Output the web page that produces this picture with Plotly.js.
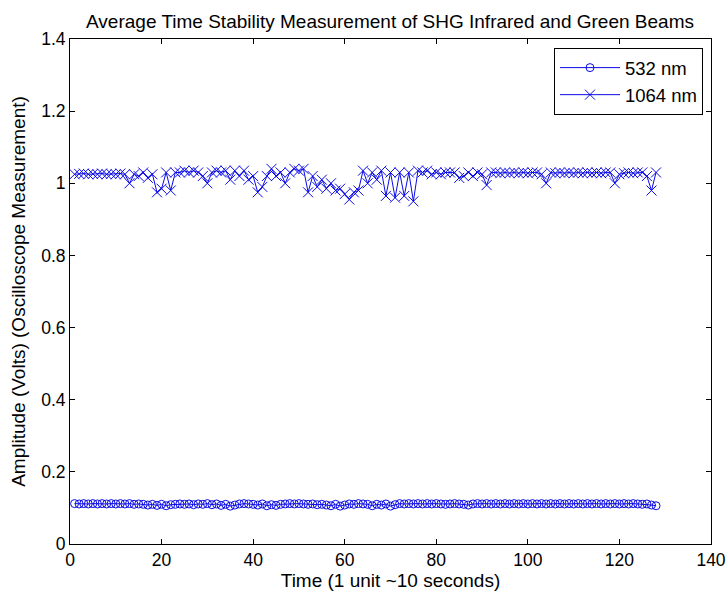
<!DOCTYPE html>
<html>
<head>
<meta charset="utf-8">
<script src="https://cdn.plot.ly/plotly-3.0.1.min.js"></script>
<style>html,body{margin:0;padding:0;background:#fff;}#chart{width:728px;height:597px;}</style>
</head>
<body>
<div id="chart"></div>
<script>
const seriesNames = ["532 nm", "1064 nm"];
const green532 = [
0.112,0.111,0.112,0.111,0.112,0.111,0.112,0.111,0.112,0.111,
0.112,0.111,0.112,0.110,0.111,0.110,0.108,0.110,0.107,0.110,
0.106,0.109,0.110,0.111,0.110,0.111,0.109,0.111,0.110,0.112,
0.109,0.111,0.107,0.110,0.105,0.108,0.111,0.112,0.111,0.110,
0.108,0.111,0.106,0.109,0.107,0.110,0.111,0.112,0.111,0.112,
0.111,0.110,0.111,0.109,0.110,0.108,0.106,0.110,0.105,0.108,
0.111,0.110,0.112,0.111,0.110,0.106,0.110,0.108,0.111,0.105,
0.109,0.112,0.111,0.112,0.111,0.112,0.111,0.112,0.111,0.112,
0.111,0.110,0.111,0.112,0.111,0.110,0.108,0.111,0.112,0.111,
0.112,0.111,0.112,0.111,0.112,0.111,0.112,0.111,0.112,0.111,
0.112,0.111,0.112,0.111,0.112,0.111,0.112,0.111,0.112,0.111,
0.112,0.111,0.112,0.111,0.112,0.111,0.112,0.111,0.112,0.111,
0.112,0.111,0.112,0.111,0.110,0.111,0.108,0.106
];
const infrared1064 = [
1.025,1.026,1.027,1.025,1.026,1.025,1.027,1.025,1.026,1.025,
1.027,1.025,1.000,1.025,1.020,1.030,1.015,1.025,0.975,0.985,
1.030,0.980,1.030,1.030,1.035,1.030,1.035,1.030,1.020,1.000,
1.030,1.035,1.030,1.035,1.010,1.035,1.020,1.035,1.010,1.020,
0.975,0.990,1.020,1.040,1.020,1.030,1.000,1.030,1.040,1.035,
1.040,0.975,1.020,0.990,1.010,0.985,1.000,0.980,0.985,0.970,
0.955,0.975,0.980,1.035,1.000,1.030,1.010,1.035,0.965,1.030,
0.960,1.030,0.965,1.030,0.950,1.035,1.030,1.035,1.025,1.030,
1.025,1.030,1.030,1.030,1.015,1.020,1.030,1.020,1.030,1.025,
0.995,1.030,1.030,1.028,1.030,1.028,1.030,1.028,1.030,1.028,
1.030,1.030,1.025,1.000,1.030,1.028,1.030,1.028,1.030,1.028,
1.030,1.028,1.030,1.028,1.030,1.028,1.030,1.030,1.000,1.025,
1.028,1.030,1.028,1.030,1.030,1.020,0.980,1.030
];
const timeIdx = green532.map((_, i) => i + 1);
const xTicks = [0,20,40,60,80,100,120,140];
const yTicks = [0,0.2,0.4,0.6,0.8,1,1.2,1.4];
const yTickText = ["0","0.2","0.4","0.6","0.8","1","1.2","1.4"];

const blue = "#0a0ae6";
const traces = [
  {x: timeIdx, y: green532, name: seriesNames[0], mode: "lines+markers",
   line: {color: blue, width: 1},
   marker: {symbol: "circle-open", size: 8, color: blue, line: {color: blue, width: 1}}},
  {x: timeIdx, y: infrared1064, name: seriesNames[1], mode: "lines+markers",
   line: {color: blue, width: 1},
   marker: {symbol: "x-thin-open", size: 10, color: blue, line: {color: blue, width: 1}}}
];
const fontFam = "Liberation Sans, Arial, sans-serif";
const layout = {
  width: 728, height: 597,
  paper_bgcolor: "#fff", plot_bgcolor: "#fff",
  margin: {l: 70, r: 17, t: 39, b: 53},
  font: {family: fontFam, size: 17, color: "#000"},
  title: {text: "Average Time Stability Measurement of SHG Infrared and Green Beams",
    font: {family: fontFam, size: 19, color: "#000"},
    x: 390/728, xanchor: "center", y: 1 - 21/597, yanchor: "middle"},
  xaxis: {range: [0, 140], tickvals: xTicks, ticktext: xTicks.map(String),
    ticks: "inside", ticklen: 5, tickcolor: "#000", showline: true, linecolor: "#000",
    linewidth: 1, mirror: "ticks", showgrid: false, zeroline: false,
    tickfont: {size: 17.5},
    title: {text: "Time (1 unit ~10 seconds)", font: {size: 19}, standoff: 4}},
  yaxis: {range: [0, 1.4], tickvals: yTicks, ticktext: yTickText,
    ticks: "inside", ticklen: 5, tickcolor: "#000", showline: true, linecolor: "#000",
    linewidth: 1, mirror: "ticks", showgrid: false, zeroline: false,
    tickfont: {size: 17.5},
    title: {text: "Amplitude (Volts) (Oscilloscope Measurement)", font: {size: 19}, standoff: 10}},
  legend: {x: 0.9875, xanchor: "right", y: 0.982, yanchor: "top",
    bgcolor: "#fff", bordercolor: "#000", borderwidth: 1,
    font: {size: 18.5}, tracegroupgap: 0, itemwidth: 60},
  showlegend: true
};
Plotly.newPlot("chart", traces, layout, {displayModeBar: false, staticPlot: true});
</script>
</body>
</html>
